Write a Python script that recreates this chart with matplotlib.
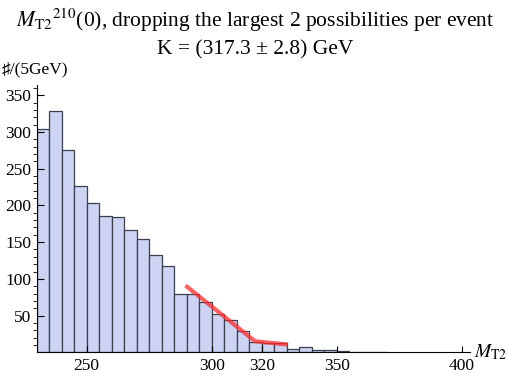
import numpy as np
import matplotlib
matplotlib.use('Agg')
import matplotlib.pyplot as plt

plt.rcParams['font.family'] = ['Liberation Serif', 'DejaVu Serif']
plt.rcParams['mathtext.fontset'] = 'stix'

# histogram, 5 GeV bins starting at 230 GeV
bin_start = 230
bin_width = 5
counts = [304, 328, 275, 226, 203, 185, 184, 166, 154, 132, 118, 80, 79,
          69, 52, 44, 29, 14, 13, 12, 5, 7, 3, 3, 2, 1, 1, 1]

# fitted kink (linear + flat background)
fit_x = [289.5, 317.3, 330.5]
fit_y = [91, 15, 10.5]

xticks = [250, 300, 320, 350, 400]

edges = bin_start + bin_width * np.arange(len(counts) + 1)

fig = plt.figure(figsize=(5.1, 3.76), dpi=100)
ax = fig.add_axes([0.072, 0.063, 0.8496, 0.711])

ax.bar(edges[:-1], counts, width=bin_width, align='edge',
       color='#ccd3f3', edgecolor='#3b404c', linewidth=0.9)
ax.plot(fit_x, fit_y, color='#ff2a2a', alpha=0.75, linewidth=3,
        solid_capstyle='butt')

ax.set_xlim(230, 403.3)
ax.set_ylim(0, 364)
ax.spines['top'].set_visible(False)
ax.spines['right'].set_visible(False)

ax.set_xticks(xticks)
ax.set_yticks(range(50, 351, 50))
ax.set_yticks(range(10, 361, 10), minor=True)
ax.tick_params(axis='both', direction='in', labelsize=12.5)
ax.tick_params(axis='y', which='major', length=5, pad=4)
ax.tick_params(axis='y', which='minor', length=3)
ax.tick_params(axis='x', length=4, pad=4)

ax.text(1.01, 0.0, r'$M_{\mathrm{T2}}$', transform=ax.transAxes,
        fontsize=14, va='center', ha='left')
fig.text(0.004, 0.812, '♯/(5GeV)', fontsize=12.5, ha='left', va='center')

fig.text(0.5, 0.945,
         r'${M_{\mathrm{T2}}}^{210}$(0), dropping the largest 2 possibilities per event',
         fontsize=15.5, ha='center', va='center')
fig.text(0.5, 0.868, 'K = (317.3 ± 2.8) GeV', fontsize=15.5,
         ha='center', va='center')

fig.savefig('out.png', dpi=100)
